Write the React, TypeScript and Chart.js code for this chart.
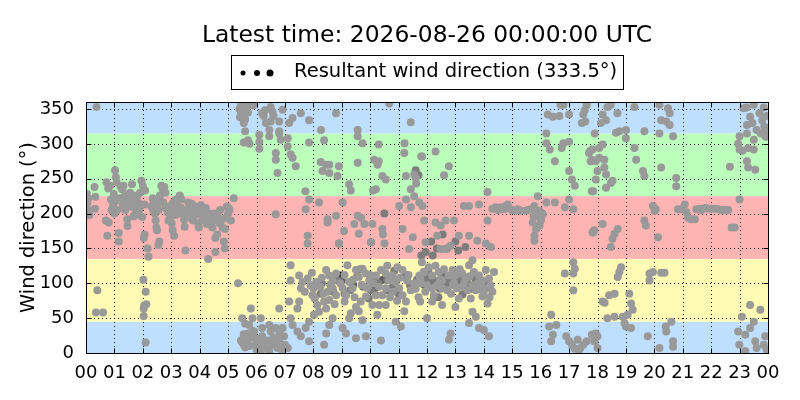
import React, { useEffect, useRef } from "react";
import { Chart, registerables } from "chart.js";
Chart.register(...registerables);

const TITLE = "Latest time: 2026-08-26 00:00:00 UTC";
const LEGEND_LABEL = "Resultant wind direction (333.5°)";
const Y_LABEL = "Wind direction (°)";
const X_TICKS = [0, 1, 2, 3, 4, 5, 6, 7, 8, 9, 10, 11, 12, 13, 14, 15, 16, 17, 18, 19, 20, 21, 22, 23, 24];
const Y_TICKS = [0, 50, 100, 150, 200, 250, 300, 350];
const BAND_EDGES = [0, 45, 135, 225, 315, 360];

// [hour, direction]
const block00to05: number[][] = [
  [0.03,228],[0.05,215],[0.08,222],[0.1,205],[0.12,198],[0.3,238],[0.33,224],[0.32,207],[0.37,353],[0.4,90],[0.35,58],[0.6,58],
  [0.72,245],[0.78,236],[0.85,240],[0.7,190],[0.8,187],[0.75,168],[0.88,220],[0.95,212],[1.0,200],[0.9,205],[0.98,228],
  [1.02,262],[1.05,252],[1.08,245],[1.05,218],[1.1,205],[1.15,172],[1.15,160],[1.22,238],[1.27,235],[1.32,240],[1.35,225],[1.4,215],[1.45,192],[1.46,182],[1.5,228],[1.55,230],[1.62,242],[1.6,210],[1.68,196],[1.7,218],[1.75,202],[1.8,226],[1.85,215],[1.9,230],[1.95,247],[2.0,240],[1.88,205],[1.93,212],[1.98,195],[2.03,165],[2.06,170],[1.2,222],[1.3,212],[1.38,205],[1.52,218],[1.58,222],[1.65,226],[1.72,210],[1.78,215],[1.82,208],[1.87,198],
  [2.02,105],[2.1,88],[2.05,68],[2.03,64],[2.12,70],[2.03,53],[2.1,15],[2.08,233],[2.06,213],[2.17,150],[2.2,138],
  [2.35,222],[2.4,215],[2.36,205],[2.42,200],[2.45,190],[2.48,180],[2.5,176],[2.55,155],[2.58,160],[2.6,226],[2.65,240],[2.7,235],[2.76,238],[2.8,230],[2.72,216],[2.8,208],[2.88,201],[2.95,210],[3.0,196],[3.02,186],[3.05,176],[3.1,168],[3.06,215],[3.12,205],[3.16,220],[3.22,211],[3.3,226],[3.36,220],[3.4,201],[3.45,191],[3.47,181],[3.5,147],[3.55,205],[3.6,216],[3.66,212],[3.7,201],[3.76,190],[3.8,196],[3.85,210],[3.9,205],[3.95,186],[3.97,180],[4.0,201],[4.05,212],[4.1,205],[4.15,196],[4.2,190],[4.3,135],[4.25,185],[4.3,200],[4.36,195],[4.4,186],[4.45,180],[4.5,190],[4.55,145],[4.55,165],[4.62,170],[4.6,200],[4.66,195],[4.7,186],[4.76,190],[4.8,180],[4.9,178],[4.85,160],[4.88,150],[4.95,210],[5.0,200],[5.05,205],[5.1,190],[5.2,222],[5.02,208],[2.5,212],[2.55,205],[2.9,190],[3.25,200],[3.35,208],[3.58,195],[3.72,214],[3.88,199],[4.08,190],[4.22,208],[4.48,200],[4.72,205],[4.92,194],[3.15,198],[2.62,218],[2.3,210],
  [5.35,100],
];

const block05to07: number[][] = [
  [5.4,350],[5.45,345],[5.5,352],[5.5,340],[5.55,330],[5.6,335],[5.65,350],[5.7,345],[5.6,318],[5.55,302],[5.7,305],[5.75,300],[5.65,355],[5.45,355],[5.42,338],
  [5.88,355],[6.2,344],[6.5,353],[6.56,346],[6.33,330],[6.5,332],[6.8,332],[6.8,318],[6.45,320],[6.92,349],[6.1,313],[6.1,303],[6.1,293],[6.45,311],[6.8,315],[6.85,306],[6.68,287],[6.68,277],[6.74,258],[6.68,199],[6.25,340],[6.3,348],[6.6,340],
  [5.5,50],[5.6,42],[5.55,27],[5.5,15],[5.55,12],[5.6,8],[5.7,28],[5.8,25],[5.85,32],[5.9,22],[5.95,12],[6.0,5],[5.65,15],[5.45,18],[5.75,10],[5.8,64],[5.86,50],[6.15,50],[6.2,36],[5.74,40],[5.92,31],[6.2,24],[6.45,40],[6.5,31],[6.68,36],[6.8,26],[6.92,36],[6.97,24],[6.8,17],[6.56,12],[6.33,7],[6.1,9],[6.74,7],[7.1,7],[5.68,17],[6.8,64],[6.4,18],[6.25,14],[6.05,20],[6.6,22],[7.0,12],[6.9,4],[6.15,2],[6.45,3],
];

const block07to12: number[][] = [
  [7.15,330],[7.27,337],[7.56,344],[7.85,334],[8.27,320],[8.8,344],[9.56,320],[10.67,358],[11.43,331],
  [7.1,308],[7.1,296],[7.2,285],[7.27,280],[7.38,268],[7.85,302],[8.38,305],[8.26,274],[8.45,270],[8.56,270],[8.32,261],[8.56,258],[8.9,268],[8.85,254],[9.26,242],[9.32,233],[9.56,273],[9.73,301],[9.56,311],[10.14,277],[10.26,270],[10.3,275],[10.43,254],[10.55,249],[10.2,235],[10.1,233],[10.3,299],[11.21,301],[11.2,287],[11.26,254],[11.55,256],[11.6,251],[11.62,243],[11.43,235],[11.55,225],[11.82,282],[7.72,232],
  [7.85,220],[7.73,206],[8.2,216],[8.5,192],[8.5,187],[8.8,197],[9.03,216],[9.08,175],[9.44,185],[9.56,197],[9.68,194],[9.8,185],[9.6,171],[10.08,185],[10.43,178],[10.03,159],[10.5,157],[7.8,168],[7.8,157],[11.37,149],[11.14,178],[11.26,220],[11.43,209],[11.73,216],[11.84,211],[11.02,211],[8.9,157],[10.45,170],[11.5,166],
];

const yellowCluster: number[][] = [
  [7.2,126],[7.2,104],[7.5,111],[7.62,102],[7.56,93],[7.8,107],[7.9,97],[8.0,93],[8.1,102],[7.97,83],[8.14,69],[8.2,59],[8.02,55],[7.85,45],[7.44,64],[7.5,74],[7.15,74],[7.2,50],[7.27,40],[7.44,31],[7.56,24],[8.45,119],[8.56,111],[8.68,104],[8.8,114],[8.68,93],[8.5,88],[8.56,76],[8.38,74],[8.45,64],[8.8,83],[9.03,93],[9.15,83],[9.1,74],[9.26,102],[9.38,93],[9.2,126],[9.5,119],[9.6,109],[9.73,121],[9.85,114],[9.97,104],[9.9,93],[9.85,81],[9.67,74],[9.5,66],[9.32,57],[9.26,50],[10.2,111],[10.38,119],[10.55,114],[10.67,104],[10.79,111],[10.9,102],[10.55,93],[10.43,83],[10.79,88],[11.02,93],[11.14,83],[11.26,74],[11.43,90],[11.55,100],[11.73,111],[11.9,116],[11.14,119],[10.96,123],[10.2,83],[10.08,69],[10.32,69],[10.55,69],[10.9,45],[11.08,38],[9.73,47],[9.5,21],[9.85,24],[10.38,18],[9.03,36],[9.15,28],[8.45,28],[8.38,12],[8.56,40],[8.68,50],[7.73,36],[7.85,17],
  [7.7,88],[7.95,115],[8.25,95],[8.3,108],[8.35,85],[8.62,98],[8.75,70],[8.95,100],[9.1,112],[9.4,105],[9.45,80],[9.7,98],[10.0,112],[10.1,100],[10.3,95],[10.6,125],[10.7,80],[10.95,75],[11.05,108],[11.3,104],[11.35,112],[11.6,92],[11.7,80],[11.8,100],[8.05,78],[9.6,60],[10.25,55],[11.2,60],
  [11.82,130],[12.06,123],[11.88,116],[11.76,107],[12.18,111],[12.41,116],[12.53,104],[12.77,111],[12.9,119],[13.0,111],[13.24,114],[13.36,107],[13.48,126],[13.6,133],[13.65,116],[13.83,111],[13.95,104],[14.07,119],[14.18,107],[14.36,116],[14.24,97],[14.3,88],[14.07,93],[13.89,95],[13.72,90],[13.6,97],[13.42,90],[13.24,95],[13.06,93],[12.9,97],[12.71,90],[12.53,93],[12.36,97],[12.18,93],[12.0,97],[11.94,88],[12.24,83],[12.18,74],[12.53,69],[13.0,66],[13.12,78],[13.6,59],[13.72,52],[13.54,78],[13.95,81],[14.13,71],[12.0,50],[11.76,74],
  [12.3,125],[12.6,120],[12.85,85],[13.3,100],[13.5,110],[13.8,100],[14.0,88],[14.2,80],[12.45,105],[12.95,102],[13.15,120],
];

const block12to17: number[][] = [
  [12.3,289],[11.8,282],[12.77,268],[12.6,255],[14.13,231],
  [13.3,211],[13.48,211],[13.83,213],[14.3,207],[14.42,209],[14.6,209],[14.78,211],[14.84,213],[14.95,206],[15.13,204],[15.3,204],[15.48,204],[15.66,206],[15.78,211],[15.9,225],[15.96,204],[16.07,199],[16.01,190],[15.96,183],[15.84,178],[15.78,168],[15.72,187],[15.75,195],[15.78,161],[16.2,216],[16.5,216],[16.85,209],[17.15,206],[12.3,187],[12.48,183],[12.65,190],[12.95,190],[13.12,168],[13.48,168],[13.77,161],[14.13,190],[14.07,157],[14.25,152],[12.36,168],[11.95,159],[12.48,149],[12.65,149],[12.83,154],[11.9,190],[14.5,205],[14.7,206],[15.0,205],[15.2,206],[15.55,205],[15.9,200],
  [12.83,28],[12.77,19],[13.48,43],[13.83,36],[14.0,33],[14.18,24],
  [16.25,342],[16.43,339],[16.66,340],[17.0,342],[16.2,315],[16.2,301],[16.32,292],[16.8,301],[16.74,294],[16.5,275],[17.0,303],[17.0,261],[17.1,249],[17.2,240],[17.0,220],[17.5,342],[17.57,332],[17.45,330],[17.62,356],[17.55,348],[16.8,356],[16.7,356],[17.2,121],[17.15,114],[16.85,114],[17.15,90],[17.15,130],[16.37,55],[16.3,38],[16.55,40],[16.43,26],[16.37,17],[16.9,24],[17.0,17],[17.1,12],[17.3,19],[17.4,7],[17.5,12],[17.62,17],[17.8,26],[17.9,17],[17.35,4],[17.2,6],
];

const block17to24: number[][] = [
  [17.9,315],[17.7,287],[17.8,277],[17.75,290],[18.0,261],[17.85,232],[17.85,173],[17.88,176],
  [18.35,353],[18.47,356],[18.7,344],[18.18,342],[18.12,330],[18.3,334],[18.65,316],[18.77,318],[19.0,320],[19.0,308],[19.3,353],[19.65,318],[20.18,356],[20.48,351],[20.54,344],[20.24,334],[20.42,332],[20.54,327],[20.18,315],[20.66,311],[23.14,351],[23.25,352],[23.5,356],[23.37,339],[23.26,327],[23.45,330],[23.6,320],[23.7,344],[23.8,334],[23.87,325],[23.75,315],[23.9,318],[23.0,311],[23.26,315],[22.95,300],[23.85,352],[23.95,340],[23.92,310],
  [17.82,292],[18.06,294],[18.18,299],[17.76,275],[17.94,275],[18.06,280],[18.24,277],[18.24,266],[18.3,256],[17.94,249],[17.8,232],[18.47,244],[18.53,247],[18.3,237],[19.3,294],[19.36,277],[19.6,261],[19.65,254],[20.24,266],[20.77,251],[20.77,239],[22.66,267],[23.0,292],[23.1,290],[23.3,294],[23.5,306],[23.5,292],[23.26,275],[23.3,266],[23.55,263],[23.0,220],
  [19.95,211],[20.01,204],[20.05,206],[20.83,206],[20.95,206],[21.07,213],[21.13,202],[21.19,194],[21.3,192],[21.42,192],[21.48,206],[21.6,207],[21.72,207],[21.9,207],[22.13,207],[22.25,206],[22.36,205],[22.48,205],[22.6,205],[22.72,180],[22.83,180],[19.65,190],[19.7,183],[20.13,166],[18.18,185],[17.82,173],[18.71,178],[18.6,171],[18.53,164],[18.47,152],[21.65,205],[21.8,208],[22.0,207],
  [18.83,123],[18.77,116],[18.71,109],[19.83,114],[19.95,116],[20.24,115],[20.36,115],[19.83,104],[18.41,83],[18.6,85],[18.18,74],[18.25,72],[19.12,85],[19.18,71],[19.24,62],[18.35,50],[18.6,52],[18.89,52],[19.06,55],[23.37,69],[23.73,62],[23.08,52],
  [18.95,43],[19.0,38],[19.18,36],[17.94,28],[18.0,24],[17.88,17],[18.0,7],[19.77,24],[20.42,31],[20.6,45],[20.4,38],[20.66,17],[20.66,9],[20.18,7],[22.95,31],[23.2,26],[23.37,36],[23.5,45],[23.55,17],[23.85,12],[23.9,24],[23.6,7],[22.99,12],[23.2,3],[23.95,5],
];

// slightly darker points in the busy middle of the day
const midPoints: number[][] = [
  [8.85,104],[10.03,90],[9.55,110],[9.1,85],[10.3,100],[10.8,95],[11.7,255],[11.6,262],[10.5,200],[8.9,157],[10.03,159],[12.0,105],[12.4,100],[12.9,100],[13.3,95],[12.6,112],[12.2,140],[12.7,150],[13.1,147],[11.8,140],[9.75,95],[10.6,105],[8.6,98],[16.0,195],[16.05,200],[8.25,85],[12.05,120],
  [12.25,104],[12.45,92],[12.62,100],[12.8,106],[13.02,98],[13.2,108],[13.4,103],[13.55,92],[13.7,106],[11.95,112],[11.65,105],[11.4,97],[11.25,112],[12.15,160],[12.55,170],[11.95,145],[12.35,150],[13.35,152],[13.0,160],[10.6,90],[10.15,106],[9.3,90],[8.7,88],[9.95,78],[11.0,85],[12.4,80],[13.25,84],[14.1,100],[13.85,92],[8.3,100],[9.65,120],[10.85,118],
];
const darkerPoints: number[][] = [
  [9.4,98],[10.15,92],[12.3,96],[12.7,95],[13.05,102],[12.1,100],[11.9,98],[13.45,98],[10.45,105],[11.55,93],[9.0,104],[12.55,108],
];
const darkPoints: number[][] = [[8.97,111],[13.12,104]];

const lightPoints = [...block00to05, ...block05to07, ...block07to12, ...yellowCluster, ...block12to17, ...block17to24];

const FONT = "'DejaVu Sans', sans-serif";
const BAND_COLORS = ["#bfdfff", "#fffab4", "#ffb4b4", "#bcffbc", "#bfdfff"];

const toXY = (arr: number[][]) => arr.map(([h, d]) => ({ x: h, y: d }));

const decor = {
  id: "decor",
  beforeDatasetsDraw(chart: any) {
    const { ctx, chartArea, scales } = chart;
    const { left, right, top, bottom } = chartArea;
    const y = scales.y, x = scales.x;
    ctx.save();
    for (let i = 0; i < BAND_EDGES.length - 1; i++) {
      const y0 = y.getPixelForValue(BAND_EDGES[i]);
      const y1 = y.getPixelForValue(BAND_EDGES[i + 1]);
      ctx.fillStyle = BAND_COLORS[i];
      ctx.fillRect(left, y1, right - left, y0 - y1);
    }
    ctx.strokeStyle = "#000";
    ctx.lineWidth = 1;
    ctx.setLineDash([1, 3]);
    X_TICKS.forEach((h) => {
      const px = Math.round(x.getPixelForValue(h)) + 0.5;
      ctx.beginPath(); ctx.moveTo(px, top); ctx.lineTo(px, bottom); ctx.stroke();
    });
    Y_TICKS.forEach((v) => {
      const py = Math.round(y.getPixelForValue(v)) + 0.5;
      ctx.beginPath(); ctx.moveTo(left, py); ctx.lineTo(right, py); ctx.stroke();
    });
    ctx.restore();
  },
  afterDatasetsDraw(chart: any) {
    const { ctx, chartArea, scales } = chart;
    const { left, right, top, bottom } = chartArea;
    const y = scales.y, x = scales.x;
    ctx.save();
    ctx.strokeStyle = "#000";
    ctx.lineWidth = 1;
    ctx.setLineDash([]);
    const L = Math.round(left) + 0.5, R = Math.round(right) + 0.5, T = Math.round(top) + 0.5, B = Math.round(bottom) + 0.5;
    X_TICKS.forEach((h) => {
      const px = Math.round(x.getPixelForValue(h)) + 0.5;
      ctx.beginPath(); ctx.moveTo(px, B); ctx.lineTo(px, B - 5); ctx.stroke();
      ctx.beginPath(); ctx.moveTo(px, T); ctx.lineTo(px, T + 5); ctx.stroke();
    });
    Y_TICKS.forEach((v) => {
      const py = Math.round(y.getPixelForValue(v)) + 0.5;
      ctx.beginPath(); ctx.moveTo(L, py); ctx.lineTo(L + 5, py); ctx.stroke();
      ctx.beginPath(); ctx.moveTo(R, py); ctx.lineTo(R - 5, py); ctx.stroke();
    });
    ctx.strokeRect(L, T, R - L, B - T);

    // title
    ctx.fillStyle = "#000";
    ctx.font = `23.4px ${FONT}`;
    ctx.textAlign = "center";
    ctx.textBaseline = "alphabetic";
    ctx.fillText(TITLE, (left + right) / 2, 42);

    // legend
    ctx.fillStyle = "#fff";
    ctx.fillRect(231.5, 55.5, 392, 34);
    ctx.strokeRect(231.5, 55.5, 392, 34);
    ctx.fillStyle = "#000";
    [[243, 2.5], [257, 3], [270, 3.5]].forEach(([cx, r]) => {
      ctx.beginPath(); ctx.arc(cx, 73, r, 0, Math.PI * 2); ctx.fill();
    });
    ctx.font = `19.5px ${FONT}`;
    ctx.textAlign = "left";
    ctx.textBaseline = "middle";
    ctx.fillText(LEGEND_LABEL, 294, 72);

    // y label
    ctx.translate(29, (top + bottom) / 2);
    ctx.rotate(-Math.PI / 2);
    ctx.textAlign = "center";
    ctx.textBaseline = "middle";
    ctx.font = `19.4px ${FONT}`;
    ctx.fillText(Y_LABEL, 0, 0);
    ctx.restore();
  },
};

export default function App() {
  const ref = useRef<HTMLCanvasElement>(null);
  useEffect(() => {
    if (!ref.current) return;
    const pointDs = (data: number[][], color: string) => ({
      data: toXY(data),
      backgroundColor: color,
      borderColor: color,
      borderWidth: 0,
      pointRadius: 4,
      pointHoverRadius: 4,
      clip: 0,
    });
    const chart = new Chart(ref.current, {
      type: "scatter",
      data: {
        datasets: [
          pointDs(lightPoints, "#999999"),
          pointDs(midPoints, "#7c7c7c"),
          pointDs(darkerPoints, "#5e5e5e"),
          pointDs(darkPoints, "#1e1e1e"),
        ],
      },
      options: {
        responsive: false,
        animation: false,
        devicePixelRatio: 1,
        layout: { padding: { top: 102, right: 32, bottom: 0, left: 0 } },
        plugins: { legend: { display: false }, title: { display: false }, tooltip: { enabled: false } },
        scales: {
          x: {
            type: "linear",
            min: 0,
            max: 24,
            grid: { display: false },
            border: { display: false },
            afterBuildTicks: (s: any) => { s.ticks = X_TICKS.map((v) => ({ value: v })); },
            afterFit: (s: any) => { s.height = 47; },
            ticks: {
              autoSkip: false,
              maxRotation: 0,
              padding: 2,
              color: "#000",
              font: { family: FONT, size: 18 },
              callback: (v: any) => String(Number(v) % 24).padStart(2, "0"),
            },
          },
          y: {
            type: "linear",
            min: 0,
            max: 360,
            grid: { display: false },
            border: { display: false },
            afterBuildTicks: (s: any) => { s.ticks = Y_TICKS.map((v) => ({ value: v })); },
            afterFit: (s: any) => { s.width = 86; },
            ticks: {
              padding: 4,
              color: "#000",
              font: { family: FONT, size: 18 },
            },
          },
        },
      },
      plugins: [decor],
    } as any);
    return () => chart.destroy();
  }, []);
  return (
    <div style={{ position: "absolute", left: 0, top: 0, width: 800, height: 400, background: "#fff" }}>
      <canvas ref={ref} width={800} height={400} style={{ width: 800, height: 400, display: "block" }} />
    </div>
  );
}
